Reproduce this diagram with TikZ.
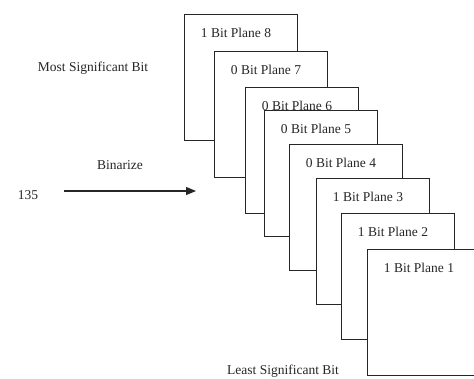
\documentclass[tikz,border=0pt]{standalone}
\usepackage{fontspec}
\setmainfont{Liberation Serif}
\usetikzlibrary{arrows.meta,calc}
\begin{document}
\begin{tikzpicture}[x=1pt,y=-1pt,
  plane/.style={draw=black!85, line width=1.1pt, fill=white, anchor=north west,
    minimum width=113pt, minimum height=126pt, inner sep=0pt},
  ptext/.style={font=\fontsize{13.5}{14}\selectfont, inner sep=0pt, text=black!85},
  lbl/.style={font=\fontsize{13.5}{14}\selectfont, inner sep=0pt, text=black!85}]
\useasboundingbox (0,0) rectangle (474,378);
\clip (0,0) rectangle (474,378);
\fill[white] (0,0) rectangle (474,378);
\foreach \n/\b/\x/\y in {8/1/184/14, 7/0/214/51, 6/0/245/87, 5/0/264/110, 4/0/289/144, 3/1/316/178, 2/1/341/213, 1/1/367/249}{
  \node[plane] (p\n) at (\x,\y) {};
  \node[ptext] (t\n) at ($(\x,\y)+(52,19)$) {\b\ Bit Plane \n};
}
\node[lbl] (msb) at (93,68) {Most Significant Bit};
\node[lbl] (bin) at (120,165) {Binarize};
\node[lbl] (num) at (28,195) {135};
\node[lbl] (lsb) at (283,371) {Least Significant Bit};
\coordinate (as) at (64,191);
\coordinate (ae) at (196,191);
\draw[line width=1.1pt, black!85, -{Triangle[length=10pt,width=8pt]}] (as) -- (ae);
\end{tikzpicture}
\end{document}
